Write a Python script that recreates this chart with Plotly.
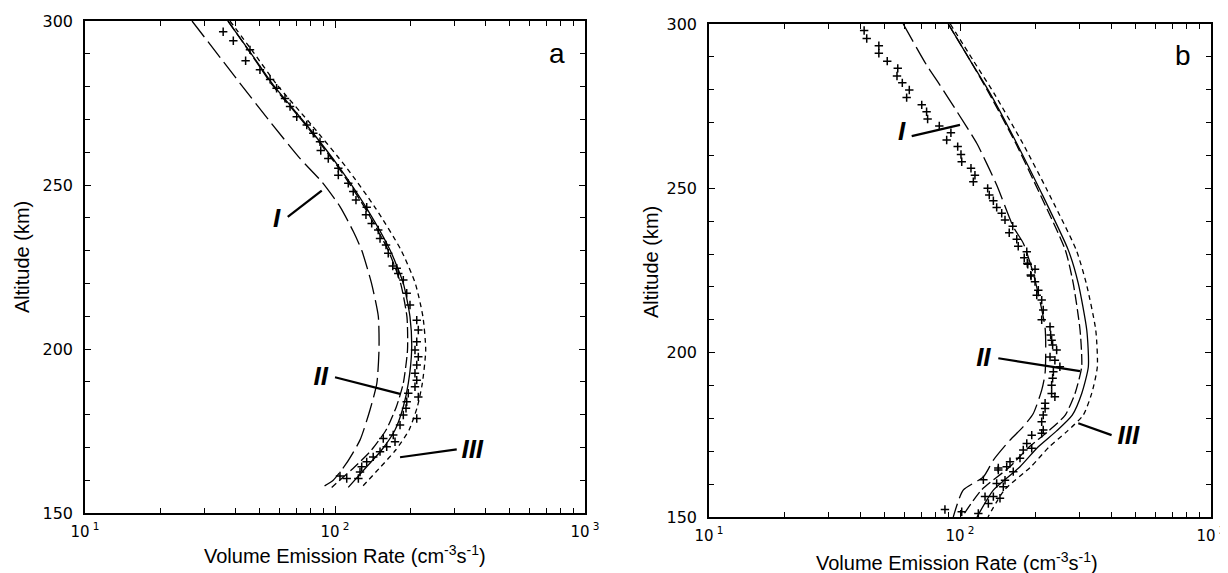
import plotly.graph_objects as go

# ---------------- Panel a ----------------
a_I_alt = [300, 281, 269.3, 258.1, 251, 243.4, 235.8, 230, 220, 210, 200, 189.5, 181.4, 172.3, 165.1, 160, 157.8]
a_I_val = [26.8, 41.7, 55.0, 72.4, 88.5, 104.7, 118.4, 128, 140, 149, 150, 147, 138, 126, 111, 98.4, 88.5]

a_alt = [300, 290.6, 280.5, 268.3, 255.1, 242.9, 230.2, 220, 209.8, 199.7, 189.5, 182.4, 175.3, 169.2, 164.1, 157.8]
a_solid = [37.3, 45.7, 56.6, 77.0, 104.7, 133.9, 166, 187.6, 199.5, 202.6, 196.4, 187.6, 173.8, 153.7, 133.9, 113]
a_II = [37.3, 45.5, 56.1, 76.3, 103.7, 132, 163, 183, 194, 195, 187.5, 176, 160, 140, 120, 97]
a_III = [38.0, 47.0, 58.7, 80.6, 111.7, 145.4, 183.6, 209.5, 224.8, 230.6, 223.5, 213.5, 197.8, 174.9, 152.4, 127.8]

a_obs_alt = [296.7, 294, 291.2, 287.9, 285.1, 282.2, 279.5, 276.4, 273.9, 270.8, 268.3, 265.8, 263.2,
             260.5, 258.1, 255.1, 253, 250.5, 248, 245.4, 243.2, 240.9, 238.3, 236.3, 233.7, 231.7,
             229.2, 225.3, 224.6, 223, 221, 217, 213.4, 208.8, 205.8, 202.2, 199.7, 197.6, 195.1,
             192.6, 190.5, 188.5, 186.5, 185.4, 183.9, 181.9, 179.9, 178.8, 176.8, 173.8, 172.7,
             171.7, 170.2, 168.7, 167.1, 165.6, 164.1, 162.5, 161.3, 160.5, 160.5]
a_obs_val = [35.7, 39.2, 45.7, 43.9, 50.1, 55.0, 58.4, 63.1, 66.1, 70.3, 77.1, 81.9, 87.1,
             87.7, 94.0, 103.1, 103.1, 113, 118.3, 121.3, 133.9, 133, 140.2, 148.9, 151.4, 160,
             163.3, 170.2, 176.6, 179.1, 187.6, 193.6, 199.5, 212.3, 215.4, 212.3, 208.9, 215.4, 212.3,
             208.9, 212.3, 208.9, 196.4, 215.4, 193.6, 192.3, 187.6, 212.3, 182, 171, 156,
             173.8, 161, 151.4, 142.2, 133.9, 127.9, 125.9, 104.7, 111.4, 124]

# ---------------- Panel b ----------------
b_I_alt = [300, 287.5, 281.4, 274.3, 263.7, 251, 238.3, 233.3, 224.1, 207.5, 193.8, 188.6, 181.5, 177.5, 173.4, 167.3, 162.2, 158.2, 150]
b_I_val = [59.4, 73.6, 83.2, 95.5, 116.6, 140, 163, 178.7, 195.9, 218.3, 218.3, 211.6, 195.9, 178.7, 158.2, 135.8, 123.9, 103, 94]

b_alt = [300, 289, 278.9, 263.7, 249.5, 231.2, 221.1, 206.9, 195.7, 187.6, 181, 176.2, 171.3, 165.3, 158.2, 150]
b_solid = [89.8, 109.6, 131.8, 168.3, 208.4, 270.1, 295.9, 319.9, 324.6, 305.5, 280, 242.7, 204.6, 173.4, 135.8, 116.9]
b_II = [89.8, 109.6, 130.6, 166.8, 204.6, 262.8, 282.6, 300.8, 305.3, 287.3, 262.6, 225.5, 188.4, 158.1, 121.7, 101.8]
b_III = [91.5, 112.7, 136.7, 177.8, 222.2, 290.6, 318.4, 347.4, 352.5, 334.8, 309.7, 268.4, 226.3, 191.8, 150.2, 129.3]

b_obs_alt = [298, 295.6, 293.4, 291.1, 288.7, 286.5, 284.2, 282.1, 279.9, 277.6, 275.4, 273.3, 271.1,
             269, 266.9, 264.7, 262.7, 260.3, 258.1, 256.1, 254, 252, 250, 247.96, 246.2, 244.2,
             242.4, 240.4, 238.5, 236.5, 234.5, 232.4, 230.7, 228.9, 226.9, 225.4, 223.3,
             227.2, 223.6, 221.6, 219, 217.5, 216, 213, 210, 207.9, 205.4, 203.8, 202.3, 200.8,
             198.7, 197.7, 195.7, 194.2, 192.2, 190.1, 187.6, 186.6, 184.6, 183, 181, 179, 176.5,
             175.5, 174.9, 172.4, 170.9, 170.4, 167.9, 166.8, 165.3, 164.3, 163.8, 161.2, 160.2,
             159.2, 156.2, 155.7, 152.3, 151.6, 151.1, 156.2, 154.1, 161.3, 164.9]
b_obs_val = [41.5, 42.5, 47.5, 47.5, 51.3, 56.5, 56.1, 58.9, 62.8, 61.3, 70.4, 73.6, 74.3,
             82.7, 92.0, 88.5, 97.9, 100.9, 101.6, 110.6, 114.7, 113, 128.9, 130.8, 135.8, 140,
             146.6, 151.1, 162.2, 157.1, 168.3, 170.6, 184.5, 180.3, 186.2, 199, 191.9,
             185.4, 191.4, 199, 205.1, 202.2, 211.6, 214.6, 211.6, 228.4, 229.7, 231.8, 233.9, 242.7,
             228.4, 238.8, 250, 235.5, 233.9, 231.8, 231.8, 238.8, 218.3, 218.3, 214.6, 211.6, 214.6,
             211.6, 193.1, 184.5, 193.1, 178.7, 173.4, 158.2, 153.5, 142.1, 163, 151.1, 140,
             148.8, 135.8, 144.3, 87.1, 101.6, 118.3, 125.8, 129.7, 123.9, 142.1]

# Labels and pointer lines (data coordinates)
a_lab_txt = ["I", "II", "III"]
a_lab_x = [58.4, 87.7, 354]
a_lab_y = [239.3, 190.9, 168.7]
a_ptr = [((64.7, 240.3), (88.5, 248.3)), ((100, 191.4), (182, 186.3)), ((306.9, 169.4), (182, 167))]

b_lab_txt = ["I", "II", "III"]
b_lab_x = [58.6, 123.9, 468.5]
b_lab_y = [266.7, 198, 174.2]
b_ptr = [((64.2, 265.9), (100, 269.3)), ((142.1, 198.3), (300.7, 194.4)), ((401.8, 174.9), (295.9, 178.5))]

x_tickvals = [10, 100, 1000]
x_ticktext = ["10<sup> 1</sup>", "10<sup> 2</sup>", "10<sup> 3</sup>"]
x_minor = [m * d for d in (10, 100) for m in range(2, 10)]

# The page body has an 8px margin, so the figure is laid out in page pixels minus that offset.
OFF = 8
FW, FH = 1228 - OFF, 573 - OFF
FONT = "Liberation Sans, Arial, sans-serif"
TICKFONT = "DejaVu Sans, Verdana, sans-serif"

def PX(X):
    return (X - OFF) / FW

def PY(Y):
    return 1 - (Y - OFF) / FH

fig = go.Figure()

def add_panel(xa, ya, I_alt, I_val, alt, solid, II, III, oalt, oval, labx, laby, labt, ptr):
    kw = dict(xaxis=xa, yaxis=ya, showlegend=False, hoverinfo="skip", cliponaxis=False)
    fig.add_trace(go.Scatter(x=I_val, y=I_alt, mode="lines",
                             line=dict(color="black", width=1.3, dash="20px,6px", shape="spline", smoothing=0.6), **kw))
    fig.add_trace(go.Scatter(x=II, y=alt, mode="lines",
                             line=dict(color="black", width=1.3, dash="11px,4px", shape="spline", smoothing=0.6), **kw))
    fig.add_trace(go.Scatter(x=solid, y=alt, mode="lines",
                             line=dict(color="black", width=1.3, shape="spline", smoothing=0.6), **kw))
    fig.add_trace(go.Scatter(x=III, y=alt, mode="lines",
                             line=dict(color="black", width=1.3, dash="5px,4px", shape="spline", smoothing=0.6), **kw))
    fig.add_trace(go.Scatter(x=oval, y=oalt, mode="markers",
                             marker=dict(symbol="cross-thin", size=6, color="black",
                                         line=dict(width=1.5, color="black")), **kw))
    for (p0, p1) in ptr:
        fig.add_trace(go.Scatter(x=[p0[0], p1[0]], y=[p0[1], p1[1]], mode="lines",
                                 line=dict(color="black", width=2.2), **kw))
    fig.add_trace(go.Scatter(x=labx, y=laby, mode="text", text=["<b><i>%s</i></b>" % t for t in labt],
                             textfont=dict(family=FONT, size=26, color="black"),
                             textposition="middle center", **kw))

add_panel("x", "y", a_I_alt, a_I_val, a_alt, a_solid, a_II, a_III, a_obs_alt, a_obs_val,
          a_lab_x, a_lab_y, a_lab_txt, a_ptr)
add_panel("x2", "y2", b_I_alt, b_I_val, b_alt, b_solid, b_II, b_III, b_obs_alt, b_obs_val,
          b_lab_x, b_lab_y, b_lab_txt, b_ptr)

def xax(domain, anchor):
    return dict(type="log", range=[1, 3], domain=domain, anchor=anchor, automargin=False,
                showline=True, linecolor="black", linewidth=1.5, mirror="ticks",
                ticks="inside", ticklen=7, tickwidth=1, tickcolor="black",
                tickvals=x_tickvals, ticktext=x_ticktext, ticklabelstandoff=4,
                tickfont=dict(family=TICKFONT, size=15, color="black"),
                showgrid=False, zeroline=False,
                minor=dict(tickvals=x_minor, ticks="inside", ticklen=5, tickwidth=1,
                           tickcolor="black", showgrid=False))

def yax(domain, anchor):
    return dict(range=[150, 300], domain=domain, anchor=anchor, automargin=False,
                showline=True, linecolor="black", linewidth=1.5, mirror="ticks",
                ticks="inside", ticklen=6, tickwidth=1, tickcolor="black",
                tick0=150, dtick=50, ticklabelstandoff=7,
                tickfont=dict(family=TICKFONT, size=16, color="black"),
                showgrid=False, zeroline=False,
                minor=dict(dtick=10, ticks="inside", ticklen=5, tickwidth=1,
                           tickcolor="black", showgrid=False))

ann = []
def title_ann(text, X, Y, angle=0):
    ann.append(dict(text=text, x=PX(X), y=PY(Y), xref="paper", yref="paper", showarrow=False,
                    textangle=angle, xanchor="center", yanchor="middle",
                    font=dict(family=FONT, size=20, color="black")))

title_ann("Volume Emission Rate (cm<sup>-3</sup>s<sup>-1</sup>)", 345, 554)
title_ann("Volume Emission Rate (cm<sup>-3</sup>s<sup>-1</sup>)", 957, 561)
title_ann("Altitude (km)", 22, 257, -90)
title_ann("Altitude (km)", 651, 262, -90)
for t, X, Y in (("a", 557, 53), ("b", 1183, 55)):
    ann.append(dict(text=t, x=PX(X), y=PY(Y), xref="paper", yref="paper", showarrow=False,
                    xanchor="center", yanchor="middle",
                    font=dict(family=FONT, size=28, color="black")))

fig.update_layout(
    width=FW, height=FH,
    margin=dict(l=0, r=0, t=0, b=0, pad=0, autoexpand=False),
    paper_bgcolor="white", plot_bgcolor="white",
    xaxis=xax([PX(85), PX(585)], "y"),
    yaxis=yax([PY(513), PY(21)], "x"),
    xaxis2=xax([PX(709), PX(1211)], "y2"),
    yaxis2=yax([PY(517), PY(24)], "x2"),
    annotations=ann,
)

fig.write_html("out.html")
